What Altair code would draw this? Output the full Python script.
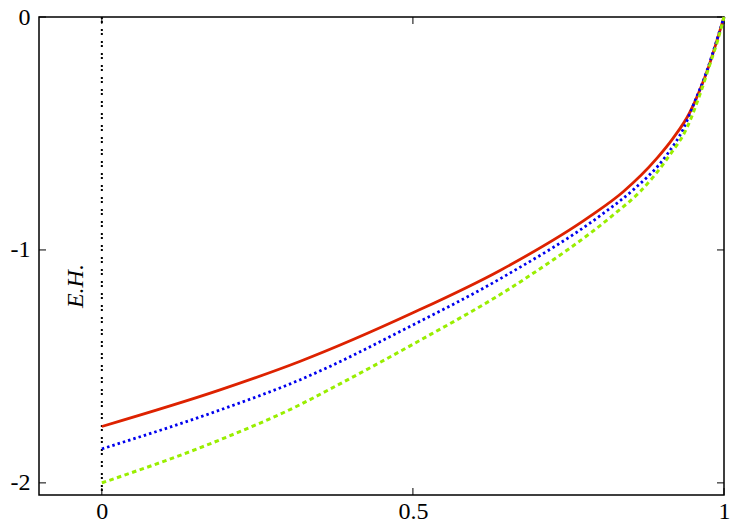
import altair as alt
import pandas as pd

# --- data ---
red_x = [0.0, 0.19, 0.318, 0.5, 0.64, 0.785, 0.838, 0.892, 0.918, 0.945, 0.961, 0.977, 0.991, 1.0]
red_y = [-1.758, -1.601, -1.479, -1.27, -1.088, -0.855, -0.750, -0.607, -0.521, -0.41, -0.315, -0.20, -0.08, 0.0]

blue_x = [0.0, 0.19, 0.318, 0.5, 0.64, 0.806, 0.854, 0.908, 0.935, 0.953, 0.972, 0.991, 1.0]
blue_y = [-1.854, -1.687, -1.558, -1.322, -1.124, -0.843, -0.742, -0.592, -0.478, -0.363, -0.235, -0.077, 0.0]

green_x = [0.0, 0.19, 0.318, 0.367, 0.5, 0.677, 0.825, 0.865, 0.913, 0.94, 0.961, 0.977, 0.991, 1.0]
green_y = [-2.0, -1.815, -1.665, -1.597, -1.405, -1.129, -0.843, -0.750, -0.592, -0.478, -0.335, -0.206, -0.09, 0.0]

x_ticks = [0, 0.5, 1]
y_ticks = [0, -1, -2]
eh_line_x = [0]
label_text = ["E.H."]
label_x = [-0.042]
label_y = [-1.155]

W, H = 685, 478
TICK = 7
FONT = "'Liberation Serif', 'Times New Roman', Times, serif"

xs = alt.Scale(domain=[-0.101, 1.0], nice=False, zero=False)
ys = alt.Scale(domain=[-2.052, 0.0], nice=False, zero=False)

x_axis = alt.Axis(values=x_ticks, tickSize=0, domain=False, grid=False,
                  labelFont=FONT, labelFontSize=24, labelColor="black",
                  labelPadding=4, labelExpr="datum.value + ''", title=None,
                  labelFlush=False)
y_axis = alt.Axis(values=y_ticks, tickSize=0, domain=False, grid=False,
                  labelFont=FONT, labelFontSize=24, labelColor="black",
                  labelPadding=9, labelExpr="datum.value + ''", title=None,
                  labelFlush=False)


def X(field):
    return alt.X(f"{field}:Q", scale=xs, axis=x_axis)


def Y(field):
    return alt.Y(f"{field}:Q", scale=ys, axis=y_axis)


red_df = pd.DataFrame({"x": red_x, "y": red_y})
blue_df = pd.DataFrame({"x": blue_x, "y": blue_y})
green_df = pd.DataFrame({"x": green_x, "y": green_y})

red = alt.Chart(red_df).mark_line(color="#dd2200", strokeWidth=2.8,
                                  interpolate="monotone").encode(x=X("x"), y=Y("y"))
blue = alt.Chart(blue_df).mark_line(color="#0000ee", strokeWidth=2.8, strokeDash=[2.5, 3],
                                    interpolate="monotone").encode(x=X("x"), y=Y("y"))
green = alt.Chart(green_df).mark_line(color="#99ee00", strokeWidth=3, strokeDash=[4.5, 3.5],
                                      interpolate="monotone").encode(x=X("x"), y=Y("y"))

vline = alt.Chart(pd.DataFrame({"x": eh_line_x})).mark_rule(
    color="black", strokeWidth=2, strokeDash=[2, 2, 2, 6]
).encode(x=X("x"), y=alt.value(0), y2=alt.value(H))

txt = alt.Chart(pd.DataFrame({"x": label_x, "y": label_y, "t": label_text})).mark_text(
    font=FONT, fontSize=24, fontStyle="italic", angle=270, align="center",
    baseline="middle", color="black"
).encode(x=X("x"), y=Y("y"), text="t:N")

xt_df = pd.DataFrame({"x": x_ticks})
yt_df = pd.DataFrame({"y": y_ticks})
tick_bottom = alt.Chart(xt_df).mark_rule(color="black", strokeWidth=1).encode(
    x=X("x"), y=alt.value(H), y2=alt.value(H - TICK))
tick_top = alt.Chart(xt_df).mark_rule(color="black", strokeWidth=1).encode(
    x=X("x"), y=alt.value(0), y2=alt.value(TICK))
tick_left = alt.Chart(yt_df).mark_rule(color="black", strokeWidth=1).encode(
    y=Y("y"), x=alt.value(0), x2=alt.value(TICK))
tick_right = alt.Chart(yt_df).mark_rule(color="black", strokeWidth=1).encode(
    y=Y("y"), x=alt.value(W), x2=alt.value(W - TICK))

chart = alt.layer(
    vline, tick_bottom, tick_top, tick_left, tick_right, txt, red, blue, green
).properties(
    width=W, height=H,
    autosize=alt.AutoSizeParams(type="none"),
    padding={"left": 31, "top": 9, "right": 10, "bottom": 30},
).configure(
    background="white",
    view=alt.ViewConfig(stroke="black", strokeWidth=1.5),
)

chart.save("out.html", embed_options={"renderer": "svg", "actions": False})
